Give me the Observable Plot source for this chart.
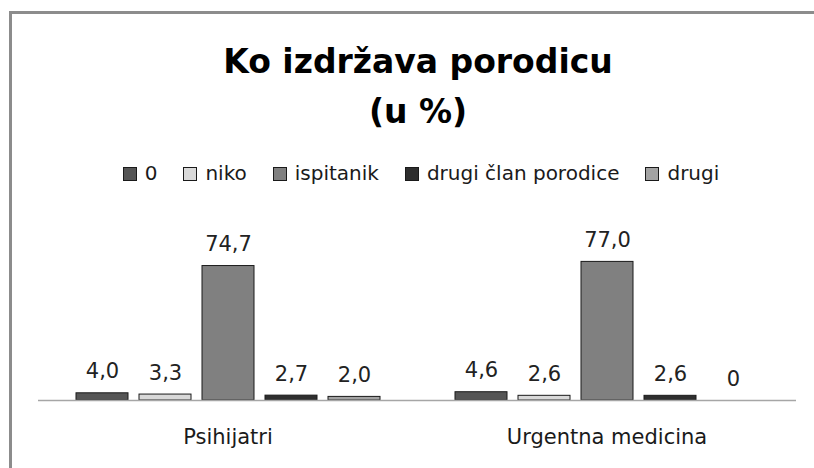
<!DOCTYPE html>
<html>
<head>
<meta charset="utf-8">
<script src="https://cdn.jsdelivr.net/npm/d3@7"></script>
<script src="https://cdn.jsdelivr.net/npm/@observablehq/plot@0.6"></script>
<style>
  html, body { margin: 0; padding: 0; background: #fff; overflow: hidden; }
  body { width: 814px; height: 468px; position: relative; font-family: "DejaVu Sans", sans-serif; color: #1a1a1a; }
  #topline { position: absolute; left: 9px; top: 11px; width: 805px; height: 3px; background: #8c8c8c; }
  #leftline { position: absolute; left: 9px; top: 11px; width: 3px; height: 457px; background: #8c8c8c; }
  #title { position: absolute; left: 0; top: 37px; width: 836px; text-align: center; font-weight: bold; font-size: 33px; line-height: 50px; color: #000; }
  #legend { position: absolute; left: 0; top: 163px; width: 814px; padding-left: 28px; box-sizing: border-box; display: flex; justify-content: center; align-items: center; font-size: 20px; line-height: 20px; }
  .item { display: flex; align-items: center; margin: 0 13px; white-space: nowrap; }
  .sw { width: 12px; height: 12px; border: 1px solid #1a1a1a; margin-right: 8px; margin-top: 1px; }
  #chart { position: absolute; left: 0; top: 200px; width: 800px; height: 268px; overflow: hidden; }
</style>
</head>
<body>
<div id="topline"></div>
<div id="leftline"></div>
<div id="title">Ko izdržava porodicu<br>(u %)</div>
<div id="legend"></div>
<div id="chart"></div>
<script>
const groups = ["Psihijatri", "Urgentna medicina"];
const series = ["0", "niko", "ispitanik", "drugi član porodice", "drugi"];
const psihijatri = [4.0, 3.3, 74.7, 2.7, 2.0];
const urgentna = [4.6, 2.6, 77.0, 2.6, 0];
const colors = ["#555555", "#d9d9d9", "#808080", "#2e2e2e", "#a3a3a3"];

const data = [];
series.forEach((s, i) => data.push({group: groups[0], series: s, value: psihijatri[i]}));
series.forEach((s, i) => data.push({group: groups[1], series: s, value: urgentna[i]}));

const fmt = v => v === 0 ? "0" : v.toFixed(1).replace(".", ",");

const legend = document.getElementById("legend");
series.forEach((s, i) => {
  const it = document.createElement("div");
  it.className = "item";
  const sw = document.createElement("span");
  sw.className = "sw";
  sw.style.background = colors[i];
  const t = document.createElement("span");
  t.textContent = s;
  it.appendChild(sw); it.appendChild(t);
  legend.appendChild(it);
});

const chart = Plot.plot({
  width: 800,
  height: 268,
  marginTop: 20,
  marginBottom: 68,
  marginLeft: 38,
  marginRight: 4,
  style: {fontFamily: "DejaVu Sans", color: "#1a1a1a", background: "transparent"},
  fx: {domain: groups, padding: 0, label: null},
  x: {domain: series, paddingInner: 0.175, paddingOuter: 0.59, axis: null},
  y: {domain: [0, 100], axis: null},
  color: {domain: series, range: colors},
  marks: [
    Plot.barY(data.filter(d => d.value > 0), {fx: "group", x: "series", y: "value", fill: "series", stroke: "#1a1a1a", strokeWidth: 1}),
    Plot.ruleY([0], {stroke: "#a6a6a6", strokeWidth: 1.5}),
    Plot.text(data, {fx: "group", x: "series", y: "value", text: d => fmt(d.value), dy: -15, lineAnchor: "bottom", fontSize: 21, fill: "#222"}),
    Plot.axisFx({anchor: "bottom", tickSize: 0, tickPadding: 29, fontSize: 21, label: null})
  ]
});
document.getElementById("chart").appendChild(chart);
</script>
</body>
</html>
